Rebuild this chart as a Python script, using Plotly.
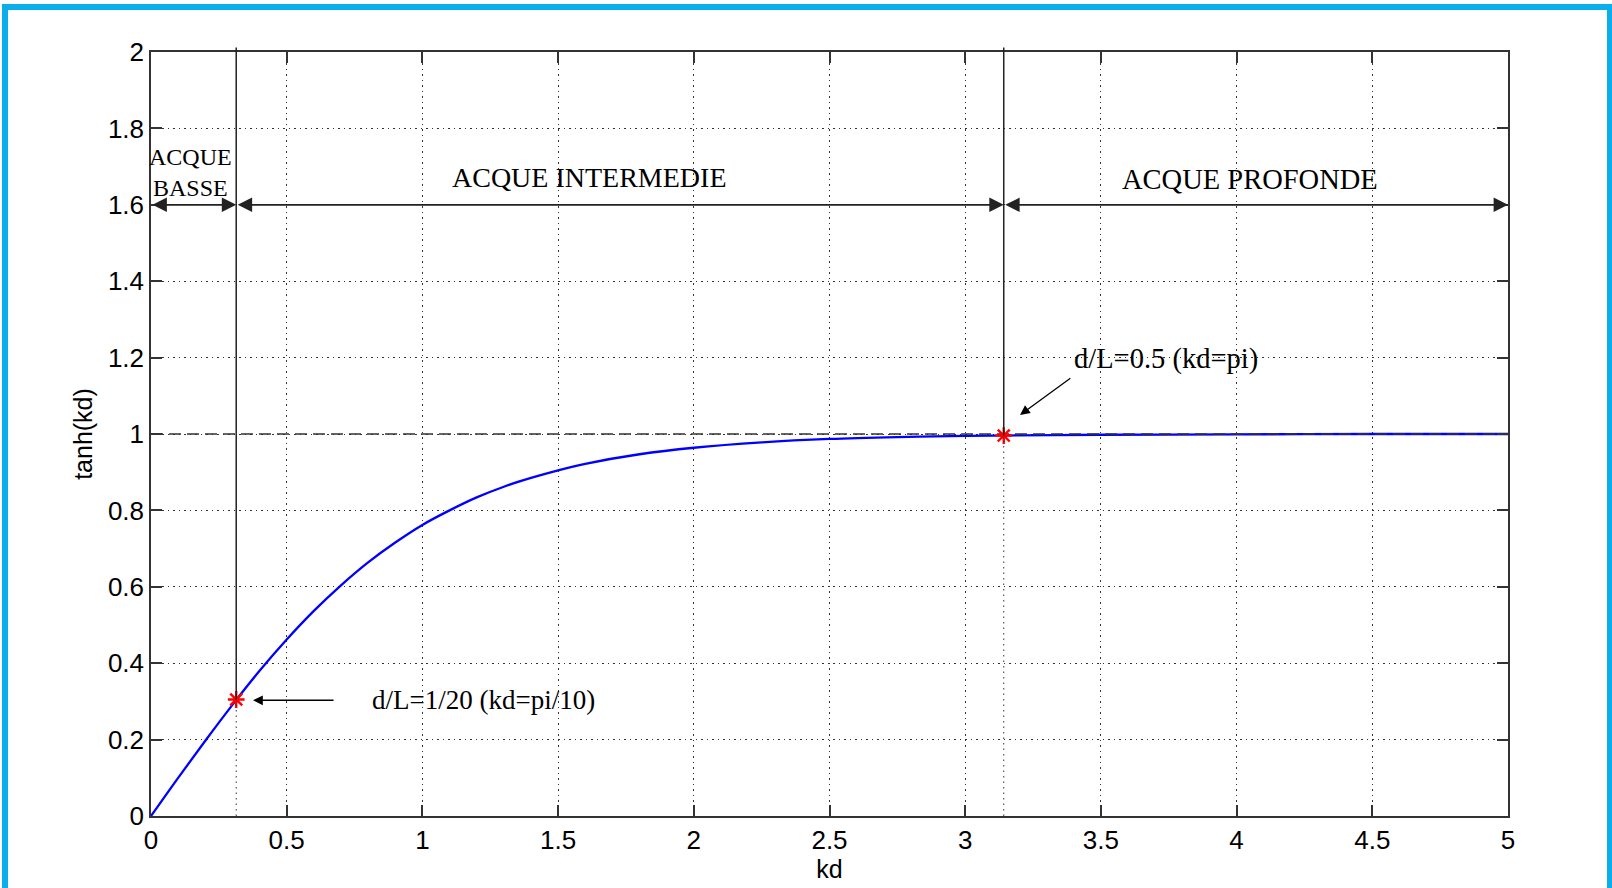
import plotly.graph_objects as go

# ---- data ----
kd = [0, 0.1, 0.2, 0.3, 0.4, 0.5, 0.6, 0.7, 0.8, 0.9, 1.0, 1.1, 1.2, 1.3, 1.4,
      1.5, 1.6, 1.8, 2.0, 2.25, 2.5, 2.75, 3.0, 3.5, 4.0, 4.5, 5.0]
tanh_kd = [0, 0.100, 0.197, 0.291, 0.380, 0.462, 0.537, 0.604, 0.664, 0.716,
           0.762, 0.800, 0.834, 0.862, 0.885, 0.905, 0.922, 0.947, 0.964, 0.978,
           0.987, 0.992, 0.995, 0.998, 0.999, 1.000, 1.000]

special_kd = [0.314, 3.142]
special_val = [0.305, 0.996]

region_bounds = [0, 0.314, 3.142, 5]
region_labels = ["ACQUE<br>BASSE", "ACQUE INTERMEDIE", "ACQUE PROFONDE"]
region_label_x = [0.147, 1.617, 4.05]
region_label_y = [1.684, 1.672, 1.666]
region_arrow_y = 1.6

notes = ["d/L=1/20 (kd=pi/10)", "d/L=0.5 (kd=pi)"]
note_x = [1.225, 3.74]
note_y = [0.303, 1.196]
note_tail_x = [0.678, 3.393]
note_tail_y = [0.303, 1.149]
note_head_x = [0.376, 3.202]
note_head_y = [0.303, 1.050]

ref_level = 1.0
x_ticks = [0, 0.5, 1, 1.5, 2, 2.5, 3, 3.5, 4, 4.5, 5]
y_ticks = [0, 0.2, 0.4, 0.6, 0.8, 1, 1.2, 1.4, 1.6, 1.8, 2]
x_range = [0, 5]
y_range = [0, 2]

SANS = "Liberation Sans, Arial, sans-serif"
SERIF = "Liberation Serif, Times New Roman, serif"

fig = go.Figure()

# main curve
fig.add_trace(go.Scatter(x=kd, y=tanh_kd, mode="lines",
                         line=dict(color="#0000FF", width=2.3, shape="spline"),
                         hoverinfo="skip"))
# reference dashed level
fig.add_trace(go.Scatter(x=x_range, y=[ref_level, ref_level], mode="lines",
                         line=dict(color="#333333", width=1.5, dash="12px,6px"),
                         hoverinfo="skip"))
# special points
fig.add_trace(go.Scatter(x=special_kd, y=special_val, mode="markers",
                         marker=dict(symbol="asterisk-open", size=14, color="#FF0000",
                                     line=dict(color="#FF0000", width=2.4)),
                         cliponaxis=False, hoverinfo="skip"))

yspan = y_range[1] - y_range[0]
shapes = []
for sx, sv in zip(special_kd, special_val):
    # solid from marker upwards (slightly beyond the top)
    shapes.append(dict(type="line", xref="x", yref="paper", x0=sx, x1=sx,
                       y0=(sv - y_range[0]) / yspan, y1=1.006,
                       line=dict(color="#222222", width=1.5)))
    # dotted below marker
    shapes.append(dict(type="line", xref="x", yref="y", x0=sx, x1=sx,
                       y0=y_range[0], y1=sv,
                       line=dict(color="#333333", width=1, dash="1.5px,4px")))

# blue frame around the picture
PL, PR, PT, PB = 151, 1508, 52, 818
W, H = PR - PL, PB - PT
def px(x):
    return (x - PL) / W
def py(y):
    return (PB - y) / H
frame_col = "#0AAEEA"
shapes.append(dict(type="line", xref="paper", yref="paper", x0=px(5), x1=px(5),
                   y0=py(900), y1=py(4), line=dict(color=frame_col, width=6)))
shapes.append(dict(type="line", xref="paper", yref="paper", x0=px(1609.5), x1=px(1609.5),
                   y0=py(900), y1=py(4), line=dict(color=frame_col, width=5)))
shapes.append(dict(type="line", xref="paper", yref="paper", x0=px(2), x1=px(1612),
                   y0=py(7), y1=py(7), line=dict(color=frame_col, width=6)))

annotations = []
label_sizes = [24, 28, 28.5]
note_sizes = [27, 28.5]
# region arrows
for i in range(len(region_labels)):
    x0, x1 = region_bounds[i], region_bounds[i + 1]
    annotations.append(dict(x=x1, y=region_arrow_y, ax=x0, ay=region_arrow_y,
                            xref="x", yref="y", axref="x", ayref="y",
                            text="", showarrow=True, arrowside="end+start",
                            arrowhead=2, arrowsize=1.6, arrowwidth=1.8,
                            arrowcolor="#222222", standoff=0, startstandoff=0))
    annotations.append(dict(x=region_label_x[i], y=region_label_y[i],
                            xref="x", yref="y", text=region_labels[i],
                            showarrow=False,
                            font=dict(family=SERIF, size=label_sizes[i], color="black")))
# notes
for i in range(len(notes)):
    annotations.append(dict(x=note_head_x[i], y=note_head_y[i],
                            ax=note_tail_x[i], ay=note_tail_y[i],
                            xref="x", yref="y", axref="x", ayref="y",
                            text="", showarrow=True, arrowhead=2,
                            arrowsize=1.5, arrowwidth=1.3, arrowcolor="black"))
    annotations.append(dict(x=note_x[i], y=note_y[i], xref="x", yref="y",
                            text=notes[i], showarrow=False,
                            font=dict(family=SERIF, size=note_sizes[i], color="black")))

axis_common = dict(showline=True, linecolor="#333333", linewidth=1.5,
                   mirror="ticks", ticks="inside", ticklen=11, tickwidth=1.5,
                   tickcolor="#333333", showgrid=True, gridcolor="#333333",
                   gridwidth=1, griddash="1.5px,4px", zeroline=False,
                   tickfont=dict(family=SANS, size=26, color="black"))

fig.update_layout(
    width=1612, height=888,
    margin=dict(l=PL, r=1612 - PR, t=PT, b=888 - PB),
    paper_bgcolor="white", plot_bgcolor="white",
    showlegend=False,
    shapes=shapes, annotations=annotations,
    xaxis=dict(range=x_range, tickvals=x_ticks,
               ticktext=[f"{v:g}" for v in x_ticks],
               title=dict(text="kd", font=dict(family=SANS, size=25, color="black"),
                          standoff=4),
               **axis_common),
    yaxis=dict(range=y_range, tickvals=y_ticks,
               ticktext=[f"{v:g}" for v in y_ticks],
               title=dict(text="tanh(kd)", font=dict(family=SANS, size=25, color="black"),
                          standoff=8),
               **axis_common),
)

fig.write_html("out.html", config={"displayModeBar": False},
               post_script="document.body.style.margin='0';document.body.style.overflow='hidden';")
